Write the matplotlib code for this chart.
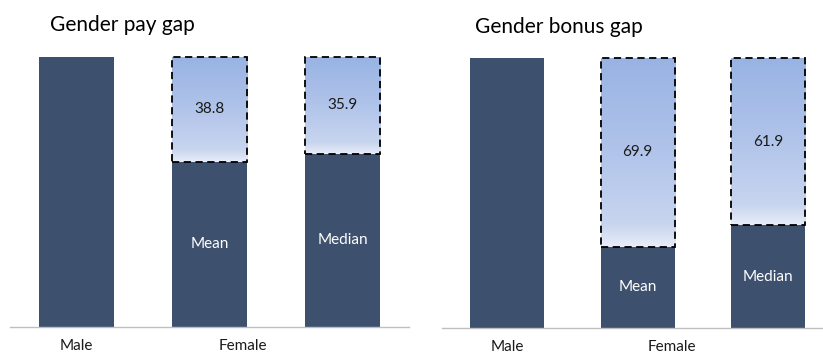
import numpy as np
import matplotlib.pyplot as plt
from matplotlib.colors import LinearSegmentedColormap
from matplotlib.patches import Rectangle

plt.rcParams['font.family'] = ['Lato', 'DejaVu Sans']

titles = ['Gender pay gap', 'Gender bonus gap']
bar_names = ['Mean', 'Median']
male_value = 100
pay_gaps = [38.8, 35.9]
bonus_gaps = [69.9, 61.9]
gaps = [pay_gaps, bonus_gaps]

dark = '#3d506e'
grad = LinearSegmentedColormap.from_list(
    'g', [(0, '#e8edf8'), (0.12, '#c8d5ef'), (0.5, '#b1c4ea'), (1, '#98b3e3')])

fig = plt.figure(figsize=(8.23, 3.54), dpi=100)
W, H = 823, 354

# axes boxes in pixels: left, bottom(from top), width, height, female label x, title pos
boxes = [(10, 327, 399, 270, 1.25, (50, 25)),
         (442, 328, 391.5, 270, 1.26, (475, 27))]

for k, (x0, yb, w, h, fem_x, tpos) in enumerate(boxes):
    ax = fig.add_axes([x0 / W, 1 - yb / H, w / W, h / H])
    ax.set_xlim(-0.5, 2.5)
    ax.set_ylim(0, 100)
    ax.axis('off')
    bw = 0.57
    ax.bar(0, male_value, width=bw, color=dark)
    g = np.linspace(0, 1, 256).reshape(-1, 1)
    for i, gap in enumerate(gaps[k]):
        xc = i + 1
        female = male_value - gap
        ax.bar(xc, female, width=bw, color=dark)
        ax.imshow(g, cmap=grad, origin='lower', aspect='auto',
                  extent=[xc - bw / 2, xc + bw / 2, female, male_value], zorder=2)
        ax.add_patch(Rectangle((xc - bw / 2, female), bw, gap, fill=False,
                               edgecolor='black', lw=1.3, ls=(0, (4, 2.5)), zorder=3,
                               clip_on=False))
        ax.text(xc, female + gap / 2, f'{gap:.1f}', ha='center', va='center',
                fontsize=11, color='#1a1a1a', zorder=4)
        ax.text(xc, female / 2, bar_names[i], ha='center', va='center',
                fontsize=11, color='white', zorder=4)
    ax.axhline(0, color='#bfbfbf', lw=1, clip_on=False)
    ax.text(0, -7.2, 'Male', ha='center', va='center', fontsize=11, color='#1a1a1a')
    ax.text(fem_x, -7.2, 'Female', ha='center', va='center', fontsize=11, color='#1a1a1a')
    fig.text(tpos[0] / W, 1 - tpos[1] / H, titles[k], ha='left', va='center',
             fontsize=15, color='black')

fig.savefig('out.png', dpi=100)
